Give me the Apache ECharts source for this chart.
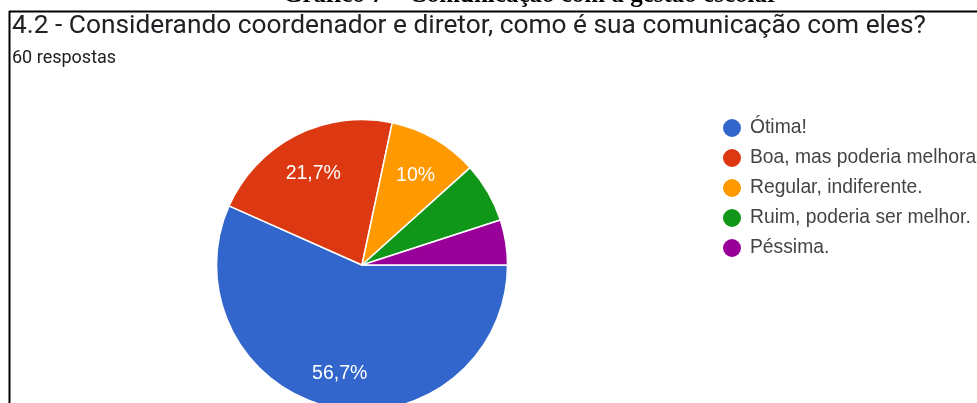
<!DOCTYPE html>
<html><head><meta charset="utf-8">
<style>html,body{margin:0;padding:0;background:#fff;}#c{width:977px;height:403px;}</style>
<script src="https://cdn.jsdelivr.net/npm/echarts@6/dist/echarts.min.js"></script>
</head><body><div id="c"></div>
<script>
const caption = "Gráfico 7 – Comunicação com a gestão escolar";
const question = "4.2 - Considerando coordenador e diretor, como é sua comunicação com eles?";
const subtitle = "60 respostas";
const categories = ["Ótima!", "Boa, mas poderia melhorar.", "Regular, indiferente.", "Ruim, poderia ser melhor.", "Péssima."];
const counts = [34, 13, 6, 4, 3];
const colors = ["#3366cc", "#dc3912", "#ff9900", "#109618", "#990099"];
const labelMin = 8; // percent below which no label shown

const total = counts.reduce((a, b) => a + b, 0);
function pct(v) {
  const p = Math.round(v / total * 1000) / 10;
  return (p % 1 === 0 ? p.toFixed(0) : p.toFixed(1)).replace('.', ',') + '%';
}
const pieData = categories.map((n, i) => ({ name: n, value: counts[i], itemStyle: { color: colors[i] } }));
const labelData = categories.map((n, i) => ({
  name: n, value: counts[i],
  label: { show: counts[i] / total * 100 >= labelMin }
}));

const chart = echarts.init(document.getElementById('c'));
chart.setOption({
  animation: false,
  backgroundColor: '#fff',
  graphic: [
    { type: 'text', left: 283, top: -17, style: { text: caption, font: 'bold 25px "Liberation Serif"', fill: '#000' } },
    { type: 'rect', shape: { x: 0, y: 12.5, width: 977, height: 40 }, style: { fill: '#fff' } },
    { type: 'line', shape: { x1: 9, y1: 11.5, x2: 977, y2: 11.5 }, style: { stroke: '#000', lineWidth: 2 } },
    { type: 'line', shape: { x1: 9.5, y1: 11, x2: 9.5, y2: 403 }, style: { stroke: '#000', lineWidth: 2 } },
    { type: 'text', left: 12, top: 13, style: { text: question, font: '26.3px Roboto', fill: '#202124' } },
    { type: 'text', left: 12, top: 49, style: { text: subtitle, font: '18px Roboto', fill: '#202124' } }
  ],
  legend: {
    orient: 'vertical', left: 716, top: 112,
    icon: 'circle', itemWidth: 20, itemHeight: 20, itemGap: 8,
    textStyle: { fontFamily: '"Liberation Sans", Arial', fontSize: 19.3, color: '#444', padding: [0, 0, 0, 3] },
    data: categories
  },
  series: [
    {
      type: 'pie', center: [362, 265], radius: 145.5, startAngle: 0, clockwise: true,
      label: { show: false }, labelLine: { show: false },
      itemStyle: { borderColor: '#fff', borderWidth: 1.5 },
      emphasis: { disabled: true },
      data: pieData
    },
    {
      type: 'pie', center: [362, 265], radius: [63, 145.5], startAngle: 0, clockwise: true,
      silent: true, legendHoverLink: false,
      itemStyle: { color: 'rgba(0,0,0,0)', borderWidth: 0 },
      label: { show: true, position: 'inside', color: '#fff', fontFamily: '"Liberation Sans", Arial', fontSize: 19.5,
        offset: [0, 4], formatter: p => pct(p.value) },
      labelLine: { show: false },
      emphasis: { disabled: true },
      data: labelData
    }
  ]
});
</script></body></html>
